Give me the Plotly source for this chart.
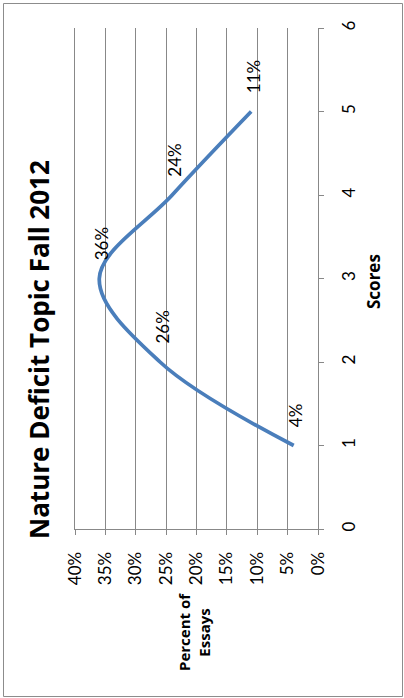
import plotly.graph_objects as go

# Share of essays at each score
scores = [1, 2, 3, 4, 5]
percent_of_essays = [0.04, 0.26, 0.36, 0.24, 0.11]
percent_labels = ["4%", "26%", "36%", "24%", "11%"]

title_text = "Nature Deficit Topic Fall 2012"
score_axis_title = "Scores"
percent_axis_title = "Percent of<br>Essays"

W, H = 404, 698
L, R, T, B = 75, 86, 28, 169
PW, PH = W - L - R, H - T - B


def px(x):
    return (x - L) / PW


def py(y):
    return 1 - (y - T) / PH


FONT = "Lato"
BOLD_FONT = "Open Sans"
LINE_BLUE = "#4A7EBB"
GRID = "#888888"

fig = go.Figure()
fig.add_trace(go.Scatter(
    x=percent_of_essays, y=scores, mode="lines",
    line=dict(color=LINE_BLUE, width=3.75, shape="spline", smoothing=1.0),
    hoverinfo="skip", showlegend=False,
))

annotations = []
for v, s, lab in zip(percent_of_essays, scores, percent_labels):
    annotations.append(dict(
        x=v, y=s, xref="x", yref="y", text=lab, showarrow=False,
        textangle=-90, xanchor="center", yanchor="bottom",
        xshift=2, yshift=16, font=dict(family=FONT, size=17, color="#000"),
    ))

annotations += [
    dict(x=px(39), y=py(350), xref="paper", yref="paper", text="<b>" + title_text + "</b>",
         showarrow=False, textangle=-90, xanchor="center", yanchor="middle",
         font=dict(family=BOLD_FONT, size=26, color="#000")),
    dict(x=px(373), y=py(282), xref="paper", yref="paper", text="<b>" + score_axis_title + "</b>",
         showarrow=False, textangle=-90, xanchor="center", yanchor="middle",
         font=dict(family=BOLD_FONT, size=17, color="#000")),
    dict(x=px(194), y=py(632), xref="paper", yref="paper", text="<b>" + percent_axis_title + "</b>",
         showarrow=False, textangle=-90, xanchor="center", yanchor="middle",
         font=dict(family=BOLD_FONT, size=15, color="#000")),
]

fig.update_layout(
    width=W, height=H,
    margin=dict(l=L, r=R, t=T, b=B, pad=0),
    paper_bgcolor="white", plot_bgcolor="white",
    font=dict(family=FONT, color="#000"),
    annotations=annotations,
    shapes=[dict(type="rect", xref="paper", yref="paper",
                 x0=px(3.5), x1=px(402.5), y0=py(696.5), y1=py(3.5),
                 line=dict(color="#8c8c8c", width=1), fillcolor="rgba(0,0,0,0)", layer="below")],
    xaxis=dict(
        range=[0.4, 0], dtick=0.05, tick0=0, tickformat=".0%",
        showgrid=True, gridcolor=GRID, gridwidth=1, zeroline=False,
        showline=True, linecolor=GRID, linewidth=1,
        ticks="outside", ticklen=5, tickcolor=GRID,
        tickangle=-90, ticklabelstandoff=10,
        tickfont=dict(family=FONT, size=17, color="#000"),
        fixedrange=True,
    ),
    yaxis=dict(
        range=[0, 6], dtick=1, side="right",
        showgrid=False, zeroline=False,
        showline=True, mirror=True, linecolor=GRID, linewidth=1,
        ticks="outside", ticklen=5, tickcolor=GRID,
        tickangle=-90, ticklabelstandoff=11,
        tickfont=dict(family=FONT, size=17, color="#000"),
        fixedrange=True,
    ),
)

fig.write_html("out.html")
